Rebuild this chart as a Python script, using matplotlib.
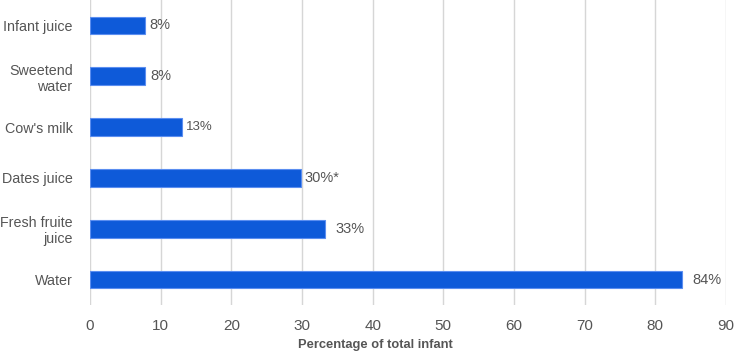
import numpy as np
import matplotlib
matplotlib.use("Agg")
import matplotlib.pyplot as plt

plt.rcParams["font.family"] = ["Liberation Sans", "DejaVu Sans"]

categories = ["Infant juice", "Sweetend\nwater", "Cow's milk", "Dates juice", "Fresh fruite\njuice", "Water"]
values = [7.8, 7.8, 13.0, 29.8, 33.2, 83.8]
labels = ["8%", "8%", "13%", "30%*", "33%", "84%"]
# label offset (points) and font size per bar, as seen in the original
lab_dx = [3, 3.5, 3, 3, 7.5, 7]
lab_fs = [10.5, 10.5, 9.5, 10.5, 10.5, 10.5]

GREY = "#555555"
fig = plt.figure(figsize=(7.34, 3.52), dpi=100)
ax = fig.add_axes([90 / 734, 47 / 352, 636 / 734, 305 / 352])

y = np.arange(len(categories))
ax.barh(y, values, height=0.35, color="#0e5ad9", edgecolor="#5b8ef0", linewidth=0.8, zorder=3)
for yi, v, lab, dx, fs in zip(y, values, labels, lab_dx, lab_fs):
    ax.annotate(lab, (v, yi), xytext=(dx, 0), textcoords="offset points",
                ha="left", va="center", fontsize=fs, color=GREY)

ax.set_ylim(len(categories) - 0.5, -0.5)
ax.set_xlim(0, 90)
ax.set_xticks(np.arange(0, 91, 10))
ax.set_yticks(y)
ax.set_yticklabels(categories, fontsize=10.3, color=GREY, linespacing=1.2)
ax.tick_params(axis="x", labelsize=11, labelcolor=GREY, length=0, pad=10)
ax.tick_params(axis="y", length=0, pad=12.5)
ax.grid(axis="x", color="#d6d6d6", linewidth=1, zorder=0)
for s in ax.spines.values():
    s.set_visible(False)
ax.set_xlabel("Percentage of total infant", fontsize=9.3, fontweight="bold", color=GREY)
ax.xaxis.set_label_coords(0.448, -0.113)

fig.savefig("out.png", dpi=100)
